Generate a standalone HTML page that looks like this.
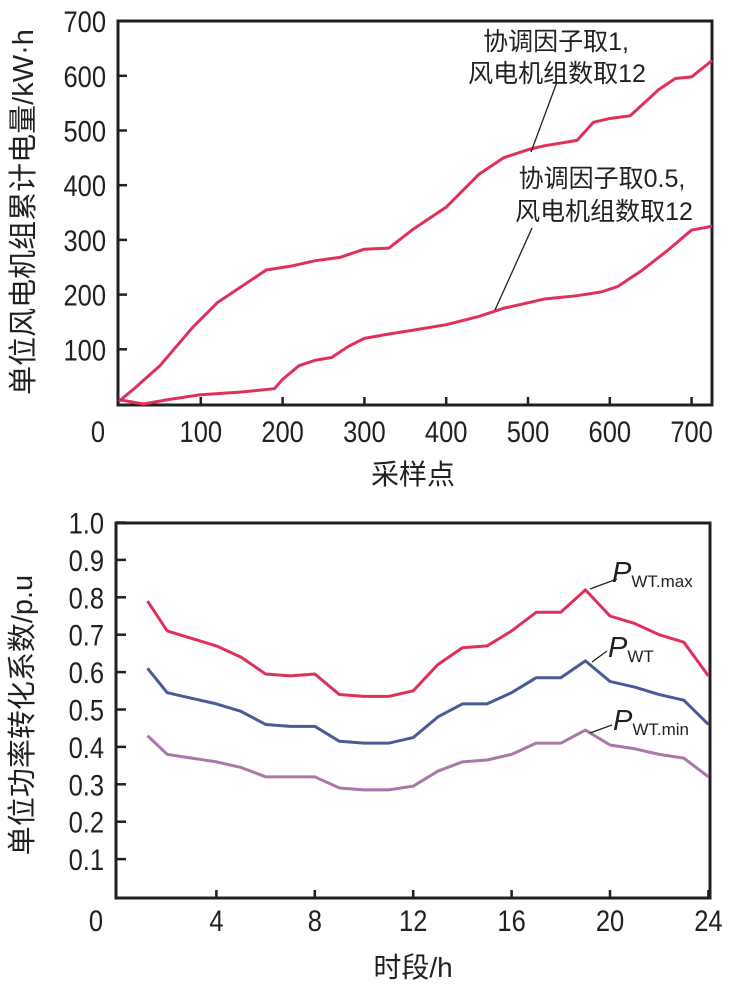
<!DOCTYPE html>
<html><head><meta charset="utf-8"><style>
body{margin:0;background:#fff;}
svg text{font-family:"Liberation Sans","Noto Sans CJK SC",sans-serif;fill:#231f20;}
</style></head><body>
<svg id="c" width="749" height="985" xmlns="http://www.w3.org/2000/svg"></svg>
<script>
const topXTicks=[100,200,300,400,500,600,700];
const topYTicks=[100,200,300,400,500,600,700];
const c1x=[0,20,50,90,120,150,180,210,240,270,300,330,360,400,440,470,500,520,560,580,600,625,660,680,700,725];
const c1y=[5,30,70,140,185,215,245,252,262,268,283,285,320,360,420,450,465,472,482,515,522,527,575,595,598,628];
const c2x=[0,30,60,100,150,190,200,220,240,260,280,300,330,360,400,440,470,500,520,560,590,610,640,670,700,725];
const c2y=[8,0,8,17,22,28,45,70,80,85,105,120,128,135,145,160,175,185,192,198,205,215,245,280,318,325];
const hours=[1.2,2,3,4,5,6,7,8,9,10,11,12,13,14,15,16,17,18,19,20,21,22,23,24];
const pMax=[0.79,0.71,0.69,0.67,0.64,0.595,0.59,0.595,0.54,0.535,0.535,0.55,0.62,0.665,0.67,0.71,0.76,0.76,0.82,0.75,0.73,0.70,0.68,0.59];
const pMid=[0.61,0.545,0.53,0.515,0.495,0.46,0.455,0.455,0.415,0.41,0.41,0.425,0.48,0.515,0.515,0.545,0.585,0.585,0.63,0.575,0.56,0.54,0.525,0.46];
const pMin=[0.43,0.38,0.37,0.36,0.345,0.32,0.32,0.32,0.29,0.285,0.285,0.295,0.335,0.36,0.365,0.38,0.41,0.41,0.445,0.405,0.395,0.38,0.37,0.32];
const botXTicks=[4,8,12,16,20,24];
const botYTicks=[0.1,0.2,0.3,0.4,0.5,0.6,0.7,0.8,0.9,1.0];

const svg=document.getElementById('c');
const NS='http://www.w3.org/2000/svg';
function mk(tag,attrs,parent){const e=document.createElementNS(NS,tag);for(const k in attrs)e.setAttribute(k,attrs[k]);(parent||svg).appendChild(e);return e;}
function txt(s,x,y,size,anchor,parent){const t=mk('text',{x:x,y:y,'font-size':size,'text-anchor':anchor||'middle'},parent);t.textContent=s;return t;}
// condensed numeric label
function num(s,x,y,anchor,parent){const g=mk('g',{transform:'translate('+x+','+y+') scale(0.85,1)'},parent);const t=mk('text',{x:0,y:0,'font-size':30,'text-anchor':anchor},g);t.textContent=s;return t;}

const tx=v=>119+v*0.818;
const ty=v=>404-v*0.547;
const gT=mk('g',{});


let fr=mk('rect',{x:118,y:21,width:594,height:384,fill:'none',stroke:'#231f20','stroke-width':3},gT);

topXTicks.forEach(v=>{mk('line',{x1:tx(v),x2:tx(v),y1:405,y2:397,stroke:'#231f20','stroke-width':2.5},gT);
 const t=num(String(v),tx(v),442,'middle',gT);});
let z=num('0',98,442,'middle',gT);
topYTicks.forEach(v=>{mk('line',{x1:118,x2:127,y1:ty(v),y2:ty(v),stroke:'#231f20','stroke-width':2.5},gT);
 const t=num(String(v),106,ty(v)+11,'end',gT);});
function poly(xs,ys,fx,fy,color,name,parent,w){const p=mk('polyline',{points:xs.map((x,i)=>fx(x)+','+fy(ys[i])).join(' '),fill:'none',stroke:color,'stroke-width':w||3,'stroke-linejoin':'round'},parent);return p;}
poly(c1x,c1y,tx,ty,'#e0305a','series-factor-1',gT);
poly(c2x,c2y,tx,ty,'#e0305a','series-factor-0.5',gT);
mk('line',{x1:557,y1:82,x2:531,y2:152,stroke:'#231f20','stroke-width':1.3},gT);
mk('line',{x1:532,y1:228,x2:495,y2:310,stroke:'#231f20','stroke-width':1.3},gT);
let a=txt('协调因子取1,',556,50,25,'middle',gT);
a=txt('风电机组数取12',557,82,25,'middle',gT);
a=txt('协调因子取0.5,',602,187,25,'middle',gT);
a=txt('风电机组数取12',604,220,25,'middle',gT);
a=txt('采样点',413,484,28,'middle',gT);
a=txt('单位风电机组累计电量/kW·h',0,0,29,'middle',gT);a.setAttribute('transform','translate(33,212) rotate(-90)');

const bx=v=>118+v*24.6;
const by=v=>896.5-v*374;
const gB=mk('g',{});


fr=mk('rect',{x:116,y:523,width:594,height:375,fill:'none',stroke:'#231f20','stroke-width':3},gB);

botXTicks.forEach(v=>{mk('line',{x1:bx(v),x2:bx(v),y1:898,y2:890,stroke:'#231f20','stroke-width':2.5},gB);
 const t=num(String(v),bx(v),931,'middle',gB);});
z=num('0',96,931,'middle',gB);
botYTicks.forEach(v=>{mk('line',{x1:116,x2:126,y1:by(v),y2:by(v),stroke:'#231f20','stroke-width':2.5},gB);
 const t=num(v.toFixed(1),104,by(v)+11,'end',gB);});
poly(hours,pMax,bx,by,'#e0305a','series-pwt-max',gB);
poly(hours,pMid,bx,by,'#4a5a96','series-pwt',gB);
poly(hours,pMin,bx,by,'#a878a8','series-pwt-min',gB);
mk('line',{x1:617,y1:579,x2:590,y2:589,stroke:'#231f20','stroke-width':1.3},gB);
mk('line',{x1:607,y1:651,x2:592,y2:662,stroke:'#231f20','stroke-width':1.3},gB);
mk('line',{x1:612,y1:725,x2:590,y2:733,stroke:'#231f20','stroke-width':1.3},gB);
function lab(x,y,sub,name){const t=mk('text',{x:x,y:y,'font-size':29,'text-anchor':'start'},gB);
 const s1=mk('tspan',{'font-style':'italic'},t);s1.textContent='P';const s2=mk('tspan',{'font-size':17,dy:5},t);s2.textContent=sub;}
lab(612,582,'WT.max','label-pwt-max');
lab(608,657,'WT','label-pwt');
lab(613,730,'WT.min','label-pwt-min');
a=txt('时段/h',413,977,28,'middle',gB);
a=txt('单位功率转化系数/p.u',0,0,29,'middle',gB);a.setAttribute('transform','translate(32,715) rotate(-90)');
</script>
</body></html>
